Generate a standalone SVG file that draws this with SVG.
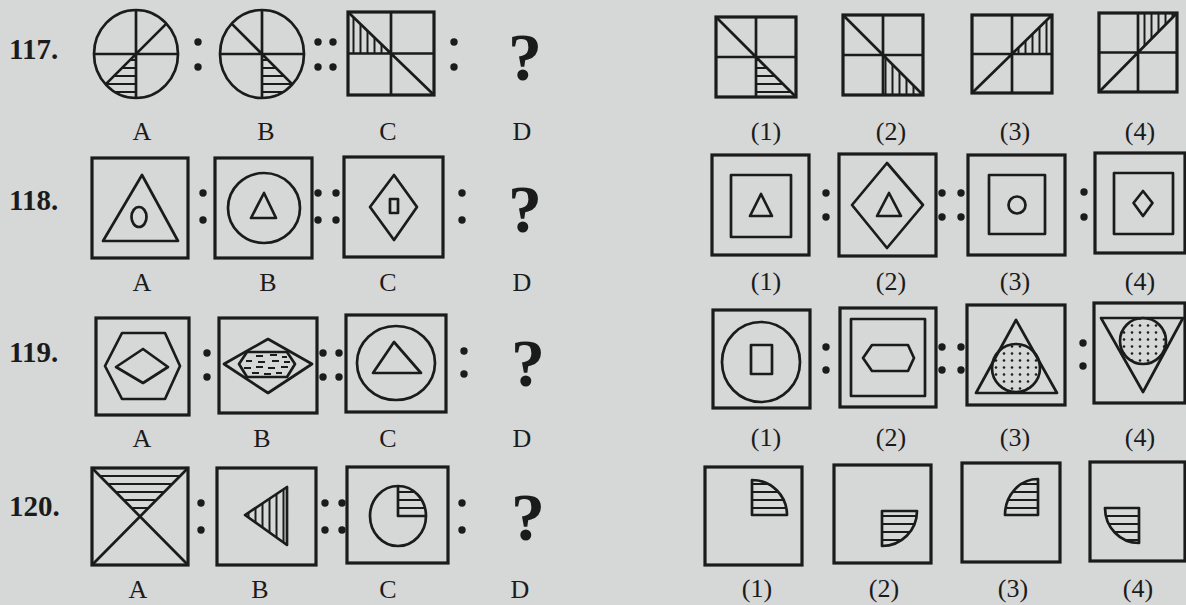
<svg xmlns="http://www.w3.org/2000/svg" width="1186" height="605" viewBox="0 0 1186 605">
<style>
.ink{fill:none;stroke:#1b1b1b;stroke-width:2.7;stroke-linejoin:round}
.box{fill:none;stroke:#1b1b1b;stroke-width:3.2}
.lbl{font-family:"Liberation Serif",serif;font-size:26px;fill:#1b1b1b;text-anchor:middle}
.num{font-family:"Liberation Serif",serif;font-size:29px;font-weight:bold;fill:#1b1b1b}
.q{font-family:"Liberation Serif",serif;font-size:68px;font-weight:bold;fill:#1b1b1b;text-anchor:middle}
.d{fill:#1b1b1b}
</style>
<defs>
<pattern id="hH" width="8" height="8" patternUnits="userSpaceOnUse"><line x1="0" y1="4" x2="8" y2="4" stroke="#1b1b1b" stroke-width="2"/></pattern>
<pattern id="hV" width="7" height="8" patternUnits="userSpaceOnUse"><line x1="3.5" y1="0" x2="3.5" y2="8" stroke="#1b1b1b" stroke-width="2"/></pattern>
<pattern id="dots" width="8" height="7" patternUnits="userSpaceOnUse"><circle cx="4" cy="3.5" r="1.3" fill="#1b1b1b"/></pattern>
</defs>
<rect width="1186" height="605" fill="#d6d7d7"/>

<!-- Row 117 -->
<g id="q117">
<text class="num" x="9" y="59">117.</text>
<g id="q117-A">
<path d="M136,54 L105.6,84.4 A42,44 0 0 0 136,98 Z" fill="url(#hH)"/>
<ellipse class="ink" cx="136" cy="54" rx="42" ry="44"/>
<path class="ink" d="M94,54 H178 M136,10 V98 M105.6,84.4 L166.4,23.6"/>
</g>
<g id="q117-B">
<path d="M262,54 L262,98 A42,44 0 0 0 292.4,84.4 Z" fill="url(#hH)"/>
<ellipse class="ink" cx="262" cy="54" rx="42" ry="44"/>
<path class="ink" d="M220,54 H304 M262,10 V98 M231.6,23.6 L292.4,84.4"/>
</g>
<g id="q117-C">
<path d="M348,12 L348,53.5 L391,53.5 Z" fill="url(#hV)"/>
<rect class="box" x="348" y="12" width="86" height="83"/>
<path class="ink" d="M348,53.5 H434 M391,12 V95 M348,12 L434,95"/>
</g>
<g id="q117-o1">
<path d="M756,57 L756,97 L796,97 Z" fill="url(#hH)"/>
<rect class="box" x="716" y="17" width="80" height="80"/>
<path class="ink" d="M716,57 H796 M756,17 V97 M716,17 L796,97"/>
</g>
<g id="q117-o2">
<path d="M883,55 L883,95 L923,95 Z" fill="url(#hV)"/>
<rect class="box" x="843" y="15" width="80" height="80"/>
<path class="ink" d="M843,55 H923 M883,15 V95 M843,15 L923,95"/>
</g>
<g id="q117-o3">
<path d="M1012,54 L1052,15 L1052,54 Z" fill="url(#hV)"/>
<rect class="box" x="972" y="15" width="80" height="78"/>
<path class="ink" d="M972,54 H1052 M1012,15 V93 M972,93 L1052,15"/>
</g>
<g id="q117-o4">
<path d="M1138,52.5 L1138,13 L1177,13 Z" fill="url(#hV)"/>
<rect class="box" x="1099" y="13" width="78" height="79"/>
<path class="ink" d="M1099,52.5 H1177 M1138,13 V92 M1099,92 L1177,13"/>
</g>
<g class="d"><circle cx="198" cy="42" r="3.7"/><circle cx="198" cy="67" r="3.7"/><circle cx="318" cy="42" r="3.7"/><circle cx="318" cy="67" r="3.7"/><circle cx="333" cy="42" r="3.7"/><circle cx="333" cy="67" r="3.7"/><circle cx="454" cy="42" r="3.7"/><circle cx="454" cy="67" r="3.7"/></g>
<text class="q" x="525" y="80">?</text>
<g class="lbl"><text x="142" y="140">A</text><text x="266" y="140">B</text><text x="388" y="140">C</text><text x="522" y="140">D</text><text x="766" y="140">(1)</text><text x="891" y="140">(2)</text><text x="1015" y="140">(3)</text><text x="1140" y="140">(4)</text></g>
</g>

<!-- Row 118 -->
<g id="q118">
<text class="num" x="9" y="210">118.</text>
<g id="q118-A">
<rect class="box" x="92" y="158" width="96" height="100"/>
<polygon class="ink" points="142,175 103,241 178,241"/>
<ellipse class="ink" cx="139" cy="217" rx="7.5" ry="10"/>
</g>
<g id="q118-B">
<rect class="box" x="215" y="158" width="97" height="100"/>
<ellipse class="ink" cx="264" cy="208" rx="36" ry="35"/>
<polygon class="ink" points="264,193 251,218 276,218"/>
</g>
<g id="q118-C">
<rect class="box" x="344" y="157" width="99" height="100"/>
<polygon class="ink" points="394,175 417,207 394,240 370,207"/>
<rect class="ink" x="390" y="199" width="8" height="14"/>
</g>
<g id="q118-o1">
<rect class="box" x="712" y="155" width="97" height="100"/>
<rect class="ink" x="731" y="175" width="60" height="62"/>
<polygon class="ink" points="761,194 750,216 772,216"/>
</g>
<g id="q118-o2">
<rect class="box" x="839" y="154" width="97" height="102"/>
<polygon class="ink" points="887,163 923,205 887,248 852,205"/>
<polygon class="ink" points="889,193 877,216 901,216"/>
</g>
<g id="q118-o3">
<rect class="box" x="968" y="155" width="97" height="100"/>
<rect class="ink" x="989" y="175" width="56" height="59"/>
<circle class="ink" cx="1017" cy="205" r="8.5"/>
</g>
<g id="q118-o4">
<rect class="box" x="1095" y="153" width="90" height="100"/>
<rect class="ink" x="1114" y="173" width="59" height="61"/>
<polygon class="ink" points="1143,191 1152.5,203 1143,216 1133.5,203"/>
</g>
<g class="d"><circle cx="203" cy="193" r="3.7"/><circle cx="203" cy="220" r="3.7"/><circle cx="318" cy="193" r="3.7"/><circle cx="318" cy="220" r="3.7"/><circle cx="336" cy="193" r="3.7"/><circle cx="336" cy="220" r="3.7"/><circle cx="462" cy="193" r="3.7"/><circle cx="462" cy="220" r="3.7"/>
<circle cx="826" cy="193" r="3.7"/><circle cx="826" cy="217" r="3.7"/><circle cx="942" cy="193" r="3.7"/><circle cx="942" cy="217" r="3.7"/><circle cx="961" cy="193" r="3.7"/><circle cx="961" cy="217" r="3.7"/><circle cx="1084" cy="192" r="3.7"/><circle cx="1084" cy="217" r="3.7"/></g>
<text class="q" x="525" y="232">?</text>
<g class="lbl"><text x="142" y="291">A</text><text x="268" y="291">B</text><text x="388" y="291">C</text><text x="522" y="291">D</text><text x="766" y="290">(1)</text><text x="891" y="290">(2)</text><text x="1015" y="290">(3)</text><text x="1140" y="290">(4)</text></g>
</g>

<!-- Row 119 -->
<g id="q119">
<text class="num" x="9" y="362">119.</text>
<g id="q119-A">
<rect class="box" x="96" y="318" width="93" height="97"/>
<polygon class="ink" points="122,333 165,333 180,366 165,399 122,399 105,366"/>
<polygon class="ink" points="143,349 168,367 143,383 116,367"/>
</g>
<g id="q119-B">
<rect class="box" x="219" y="318" width="98" height="95"/>
<polygon class="ink" points="268,339 312,364 268,393 224,364"/>
<polygon class="ink" points="247,352 287,352 295,364 287,377 247,377 239,364"/>
<path d="M256,356 h7 M270,355 h7 M282,357 h5 M246,361 h6 M258,362 h7 M272,361 h7 M284,362 h6 M244,368 h7 M256,367 h7 M268,368 h7 M281,367 h7 M252,373 h7 M264,374 h7 M276,373 h6" stroke="#1b1b1b" stroke-width="2" fill="none"/>
</g>
<g id="q119-C">
<rect class="box" x="346" y="315" width="100" height="97"/>
<ellipse class="ink" cx="396" cy="363" rx="39" ry="37"/>
<polygon class="ink" points="394,342 373,373 421,373"/>
</g>
<g id="q119-o1">
<rect class="box" x="713" y="310" width="97" height="98"/>
<ellipse class="ink" cx="761" cy="362" rx="39" ry="40"/>
<rect class="ink" x="751" y="345" width="21" height="29"/>
</g>
<g id="q119-o2">
<rect class="box" x="840" y="308" width="96" height="99"/>
<rect class="ink" x="851" y="319" width="74" height="77"/>
<polygon class="ink" points="863,358 872,345 908,345 914,358 908,371 872,371"/>
</g>
<g id="q119-o3">
<rect class="box" x="967" y="305" width="98" height="100"/>
<circle cx="1016" cy="368" r="24" fill="url(#dots)"/>
<circle class="ink" cx="1016" cy="368" r="24"/>
<polygon class="ink" points="1016,320 976,393 1057,393"/>
</g>
<g id="q119-o4">
<rect class="box" x="1094" y="303" width="91" height="100"/>
<circle cx="1143" cy="341" r="23" fill="url(#dots)"/>
<circle class="ink" cx="1143" cy="341" r="23"/>
<polygon class="ink" points="1101,318 1183,318 1143,392"/>
</g>
<g class="d"><circle cx="207" cy="353" r="3.7"/><circle cx="207" cy="377" r="3.7"/><circle cx="323" cy="353" r="3.7"/><circle cx="323" cy="377" r="3.7"/><circle cx="339" cy="353" r="3.7"/><circle cx="339" cy="377" r="3.7"/><circle cx="464" cy="351" r="3.7"/><circle cx="464" cy="374" r="3.7"/>
<circle cx="826" cy="347" r="3.7"/><circle cx="826" cy="370" r="3.7"/><circle cx="942" cy="347" r="3.7"/><circle cx="942" cy="370" r="3.7"/><circle cx="961" cy="347" r="3.7"/><circle cx="961" cy="370" r="3.7"/><circle cx="1083" cy="343" r="3.7"/><circle cx="1083" cy="366" r="3.7"/></g>
<text class="q" x="528" y="386">?</text>
<g class="lbl"><text x="142" y="447">A</text><text x="262" y="447">B</text><text x="388" y="447">C</text><text x="522" y="447">D</text><text x="766" y="446">(1)</text><text x="891" y="446">(2)</text><text x="1015" y="446">(3)</text><text x="1140" y="446">(4)</text></g>
</g>

<!-- Row 120 -->
<g id="q120">
<text class="num" x="9" y="516">120.</text>
<g id="q120-A">
<path d="M92,468 L188,468 L140,516.5 Z" fill="url(#hH)"/>
<rect class="box" x="92" y="468" width="96" height="97"/>
<path class="ink" d="M92,468 L188,565 M188,468 L92,565"/>
</g>
<g id="q120-B">
<rect class="box" x="217" y="468" width="99" height="97"/>
<polygon points="245,515 287,487 287,545" fill="url(#hV)"/>
<polygon class="ink" points="245,515 287,487 287,545"/>
</g>
<g id="q120-C">
<rect class="box" x="347" y="467" width="101" height="96"/>
<path d="M398,516 L398,486 A28,30 0 0 1 426,516 Z" fill="url(#hH)"/>
<ellipse class="ink" cx="398" cy="516" rx="28" ry="30"/>
<path class="ink" d="M398,486 V516 H426"/>
</g>
<g id="q120-o1">
<rect class="box" x="705" y="467" width="97" height="98"/>
<path d="M752,480 L752,515 L787,515 A35,35 0 0 0 752,480 Z" fill="url(#hH)" stroke="#1b1b1b" stroke-width="2.7" stroke-linejoin="round"/>
</g>
<g id="q120-o2">
<rect class="box" x="834" y="465" width="97" height="98"/>
<path d="M882,511 L917,511 A35,35 0 0 1 882,546 Z" fill="url(#hH)" stroke="#1b1b1b" stroke-width="2.7" stroke-linejoin="round"/>
</g>
<g id="q120-o3">
<rect class="box" x="962" y="463" width="98" height="99"/>
<path d="M1038,515 L1005,515 A33,36 0 0 1 1038,479 Z" fill="url(#hH)" stroke="#1b1b1b" stroke-width="2.7" stroke-linejoin="round"/>
</g>
<g id="q120-o4">
<rect class="box" x="1090" y="462" width="95" height="99"/>
<path d="M1139,508 L1139,543 A34,35 0 0 1 1105,508 Z" fill="url(#hH)" stroke="#1b1b1b" stroke-width="2.7" stroke-linejoin="round"/>
</g>
<g class="d"><circle cx="201" cy="503" r="3.7"/><circle cx="201" cy="530" r="3.7"/><circle cx="325" cy="503" r="3.7"/><circle cx="325" cy="530" r="3.7"/><circle cx="342" cy="503" r="3.7"/><circle cx="342" cy="530" r="3.7"/><circle cx="462" cy="503" r="3.7"/><circle cx="462" cy="530" r="3.7"/></g>
<text class="q" x="528" y="540">?</text>
<g class="lbl"><text x="138" y="598">A</text><text x="260" y="598">B</text><text x="388" y="598">C</text><text x="520" y="598">D</text><text x="757" y="597">(1)</text><text x="884" y="597">(2)</text><text x="1013" y="597">(3)</text><text x="1138" y="597">(4)</text></g>
</g>
</svg>
